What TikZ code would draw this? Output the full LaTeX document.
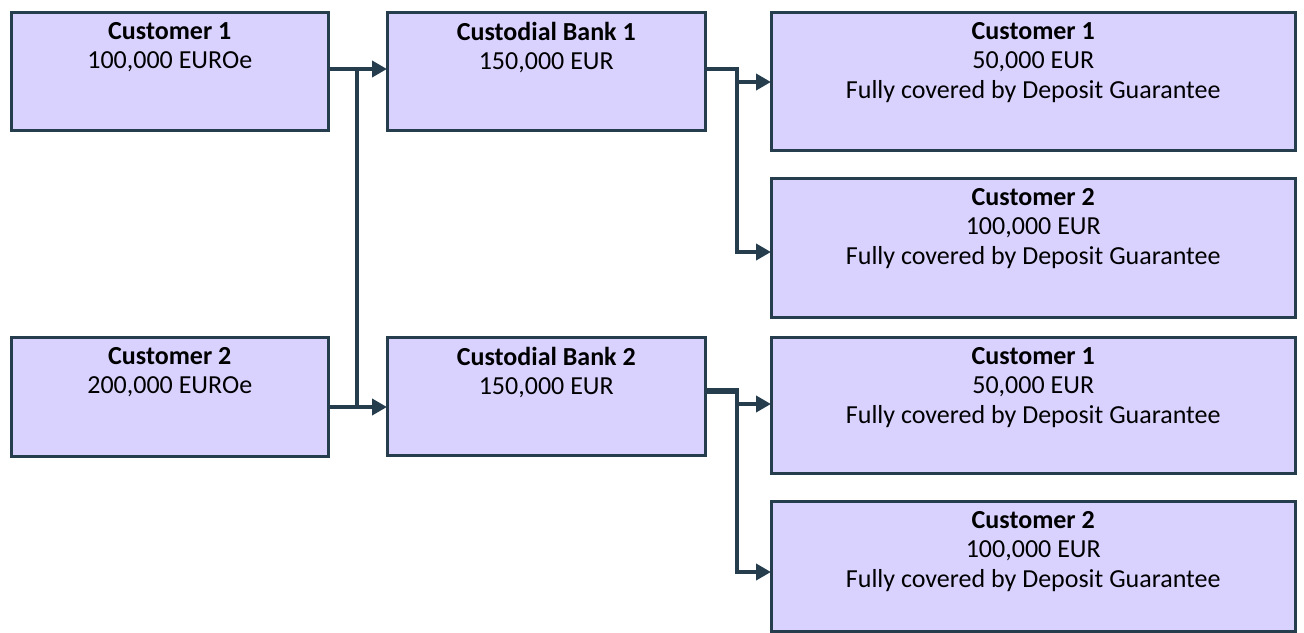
\documentclass[tikz,border=0pt]{standalone}
\usepackage{fontspec}
\setmainfont{Carlito}
\usetikzlibrary{arrows.meta,calc}
\definecolor{boxfill}{HTML}{D9D2FF}
\definecolor{edge}{HTML}{263D4D}
\tikzset{
  box/.style={draw=edge, line width=2.5pt, fill=boxfill, anchor=north west, inner sep=0pt},
  lbl/.style={anchor=north, align=center, inner sep=0pt, font=\fontsize{26}{29.5}\selectfont},
  conn/.style={draw=edge, line width=3.8pt},
  arr/.style={conn, -{Triangle[length=15pt,width=16pt]}, shorten >=-1pt},
}
\begin{document}
\begin{tikzpicture}[x=1pt,y=-1pt]
\useasboundingbox (0,0) rectangle (1304,632);
% boxes
\node[box, minimum width=317pt, minimum height=118pt] (c1) at (10,11) {};
\node[box, minimum width=317pt, minimum height=119pt] (c2) at (10,336) {};
\node[box, minimum width=318pt, minimum height=118pt] (b1) at (386,11) {};
\node[box, minimum width=318pt, minimum height=118pt] (b2) at (386,336) {};
\node[box, minimum width=524pt, minimum height=138pt] (r1) at (770,11) {};
\node[box, minimum width=524pt, minimum height=139pt] (r2) at (770,177) {};
\node[box, minimum width=524pt, minimum height=136pt] (r3) at (770,336) {};
\node[box, minimum width=524pt, minimum height=130pt] (r4) at (770,500) {};
% labels
\node[lbl] (t1) at ([yshift=-11pt]c1.north) {\textbf{Customer 1}\\100,000 EUROe};
\node[lbl] (t2) at ([yshift=-11pt]c2.north) {\textbf{Customer 2}\\200,000 EUROe};
\node[lbl] (t3) at ([yshift=-11pt]b1.north) {\textbf{Custodial Bank 1}\\150,000 EUR};
\node[lbl] (t4) at ([yshift=-11pt]b2.north) {\textbf{Custodial Bank 2}\\150,000 EUR};
\node[lbl] (t5) at ([yshift=-11pt]r1.north) {\textbf{Customer 1}\\50,000 EUR\\Fully covered by Deposit Guarantee};
\node[lbl] (t6) at ([yshift=-11pt]r2.north) {\textbf{Customer 2}\\100,000 EUR\\Fully covered by Deposit Guarantee};
\node[lbl] (t7) at ([yshift=-11pt]r3.north) {\textbf{Customer 1}\\50,000 EUR\\Fully covered by Deposit Guarantee};
\node[lbl] (t8) at ([yshift=-11pt]r4.north) {\textbf{Customer 2}\\100,000 EUR\\Fully covered by Deposit Guarantee};
% junction coordinates
\coordinate (ja) at (357,69);
\coordinate (jb) at (357,407);
\coordinate (k1) at (737,69);
\coordinate (k1a) at (737,82);
\coordinate (k1b) at (737,252);
\coordinate (k2) at (737,391);
\coordinate (k2a) at (737,404);
\coordinate (k2b) at (737,572);
% left connectors
\draw[arr] (c1.east |- ja) -- (b1.west |- ja);
\draw[arr] (c2.east |- jb) -- (b2.west |- jb);
\draw[conn] ([yshift=-1.9pt]ja) -- ([yshift=1.9pt]jb);
% bank 1 outputs
\draw[conn, line join=miter] (b1.east |- k1) -- (k1) -- ([yshift=1.9pt]k1b);
\draw[arr] ([xshift=-1.9pt]k1b) -- (r2.west |- k1b);
\draw[arr] (k1a) -- (r1.west |- k1a);
% bank 2 outputs
\draw[conn, line width=6pt] (b2.east |- k2) -- ([xshift=1.9pt]k2);
\draw[conn] ([yshift=-3pt]k2) -- ([yshift=1.9pt]k2b);
\draw[arr] ([xshift=-1.9pt]k2b) -- (r4.west |- k2b);
\draw[arr] (k2a) -- (r3.west |- k2a);
\end{tikzpicture}
\end{document}
